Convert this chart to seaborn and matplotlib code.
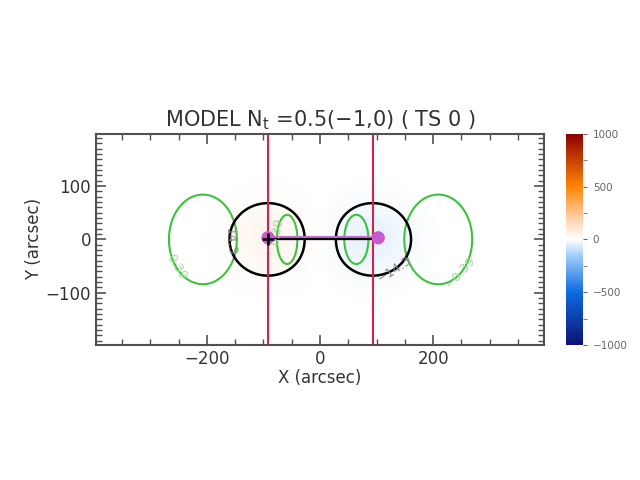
import numpy as np
import pandas as pd
import matplotlib
matplotlib.use("Agg")
import matplotlib.pyplot as plt
import seaborn as sns
from matplotlib.colors import LinearSegmentedColormap
from matplotlib.ticker import MultipleLocator

# Poles (flux sources), arcsec
pole_x = [-92, 93]
pole_y = [0, 0]
pole_peak = [42, -42]        # peak field, far below the +-1000 colour range
pole_sigma = [46.3, 46.3]
bz_levels = [-14.3, 14.3]

# Green contour lobes: centre, half width, half height, sign
lobe_x = [-207, -58, 64, 209]
lobe_hw = [60, 18, 21, 60]
lobe_hh = [84, 46, 46, 84]
lobe_sign = [1, 1, -1, -1]
green_levels = [-0.39, 0.39]

# Cut positions and footpoints
cut_x = [-92, 94]
foot_x = [-92, 103]
foot_y = [3, 3]
axis_x = [-92, 94]
axis_y = [0, 0]

xlim = (-396, 396)
ylim = (-198, 198)

# Grid and model fields
xg = np.linspace(xlim[0], xlim[1], 600)
yg = np.linspace(ylim[0], ylim[1], 300)
X, Y = np.meshgrid(xg, yg)

bz = np.zeros_like(X)
for x0, y0, a, s in zip(pole_x, pole_y, pole_peak, pole_sigma):
    bz += a * np.exp(-((X - x0) ** 2 + (Y - y0) ** 2) / (2 * s ** 2))

scale = np.sqrt(np.log(1 / 0.39))
green = np.zeros_like(X)
for x0, hw, hh, sg in zip(lobe_x, lobe_hw, lobe_hh, lobe_sign):
    green += sg * np.exp(-((X - x0) / (hw / scale)) ** 2 - (Y / (hh / scale)) ** 2)

cmap = LinearSegmentedColormap.from_list("idl_bwr", [
    (0.00, (0.05, 0.07, 0.45)),
    (0.25, (0.05, 0.42, 0.88)),
    (0.42, (0.62, 0.80, 0.98)),
    (0.50, (1.00, 1.00, 1.00)),
    (0.60, (1.00, 0.82, 0.66)),
    (0.75, (1.00, 0.52, 0.02)),
    (1.00, (0.55, 0.00, 0.00)),
], N=511)

sns.set_style("ticks")
plt.rcParams["font.family"] = ["DejaVu Sans"]
text_col = "#333333"

fig = plt.figure(figsize=(6.4, 4.8), dpi=100)
ax = fig.add_axes([0.15, 0.28125, 0.70, 0.44])
cax = fig.add_axes([0.884, 0.28125, 0.027, 0.44])

im = ax.imshow(bz, extent=[xlim[0], xlim[1], ylim[0], ylim[1]], origin="lower",
               cmap=cmap, vmin=-1000, vmax=1000, aspect="auto", interpolation="bilinear")

cs_g = ax.contour(X, Y, green, levels=green_levels, colors="#3cc23c",
                  linewidths=1.5, linestyles="solid")
cs_b = ax.contour(X, Y, bz, levels=bz_levels, colors="black",
                  linewidths=1.8, linestyles="solid")

ax.clabel(cs_b, fmt={-14.3: "\u221214.3", 14.3: "14.3"}, inline=False, fontsize=9,
          colors="#8a8a8a", manual=[(-156, -4), (133, -57)])
ax.clabel(cs_g, fmt={-0.39: "\u22120.39", 0.39: "0.39"}, inline=False, fontsize=9,
          colors="#a8d8a0", manual=[(-253, -51), (244, -57), (-80, 15)])

for cx in cut_x:
    ax.axvline(cx, color="#d8204e", lw=1.5)

df_foot = pd.DataFrame({"x": foot_x, "y": foot_y})
df_axis = pd.DataFrame({"x": axis_x, "y": axis_y})
sns.lineplot(data=df_foot, x="x", y="y", ax=ax, color="#c870d8", lw=3, sort=False)
sns.lineplot(data=df_axis, x="x", y="y", ax=ax, color="black", lw=1.6, sort=False)
sns.scatterplot(data=df_foot, x="x", y="y", ax=ax, color="#c85ad0", s=90, edgecolor="none", zorder=5)
ax.plot(axis_x[0], axis_y[0], marker="+", color="black", ms=9, mew=1.8, zorder=6)

ax.set_xlim(xlim)
ax.set_ylim(ylim)
ax.xaxis.set_major_locator(MultipleLocator(200))
ax.xaxis.set_minor_locator(MultipleLocator(50))
ax.yaxis.set_major_locator(MultipleLocator(100))
ax.yaxis.set_minor_locator(MultipleLocator(10))
ax.tick_params(which="both", direction="in", top=True, right=True, colors="#505050",
               labelcolor=text_col, labelsize=12)
ax.tick_params(which="major", length=7, width=1.2)
ax.tick_params(which="minor", length=4, width=1.0)
for sp in ax.spines.values():
    sp.set_color("#505050")
    sp.set_linewidth(1.5)
ax.set_xlabel("X (arcsec)", fontsize=12, color=text_col, labelpad=1)
ax.set_ylabel("Y (arcsec)", fontsize=12, color=text_col, labelpad=2)
ax.set_title("MODEL N$_\\mathregular{t}$ =0.5(\u22121,0) ( TS 0 )", fontsize=15,
             color=text_col, pad=5)

cb = fig.colorbar(im, cax=cax)
cb.set_ticks([-1000, -500, 0, 500, 1000])
cb.ax.yaxis.set_minor_locator(MultipleLocator(250))
cb.ax.tick_params(which="both", direction="out", labelsize=7.5, colors="#666666",
                  length=3, pad=4)
cb.outline.set_visible(False)

fig.savefig("out.png", dpi=100)
